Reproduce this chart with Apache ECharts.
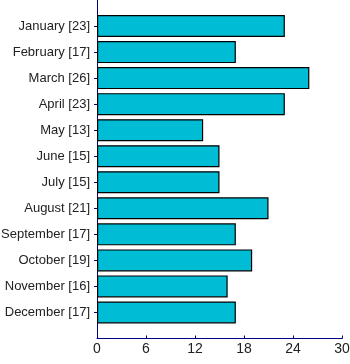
<!DOCTYPE html>
<html><head><meta charset="utf-8">
<script src="https://cdn.jsdelivr.net/npm/echarts@6/dist/echarts.min.js"></script>
<style>html,body{margin:0;padding:0;background:#fff}#c{width:350px;height:364px}</style>
</head><body><div id="c"></div>
<script>
const categories = ['January','February','March','April','May','June','July','August','September','October','November','December'];
const values = [23,17,26,23,13,15,15,21,17,19,16,17];
const xTicks = [0,6,12,18,24,30];

const yCats = [''].concat(categories.map((c,i)=>c+' ['+values[i]+']'), ['']);
const chart = echarts.init(document.getElementById('c'));
chart.setOption({
  animation:false,
  grid:{left:97,right:8,top:0,bottom:25.5,containLabel:false,outerBoundsMode:'none'},
  xAxis:{type:'value',min:xTicks[0],max:xTicks[xTicks.length-1],interval:6,
    axisLine:{show:true,lineStyle:{color:'#000080',width:1}},
    axisTick:{show:true,inside:true,length:3,lineStyle:{color:'#000080'}},
    splitLine:{show:false},
    axisLabel:{color:'#222',fontFamily:'Liberation Sans, Arial',fontSize:14,margin:4}},
  yAxis:{type:'category',data:yCats,inverse:true,boundaryGap:false,
    axisLine:{show:true,lineStyle:{color:'#000080',width:1}},
    axisTick:{show:true,length:3,lineStyle:{color:'#000080'},interval:(i,v)=>v!==''},
    splitLine:{show:false},
    axisLabel:{color:'#222',fontFamily:'Liberation Sans, Arial',fontSize:13,margin:7,interval:0}},
  series:[{type:'bar',barWidth:22,
    data:[null].concat(values,[null]),
    itemStyle:{color:'#00BCD4',borderColor:'#000',borderWidth:1.2}}]
});
</script></body></html>
